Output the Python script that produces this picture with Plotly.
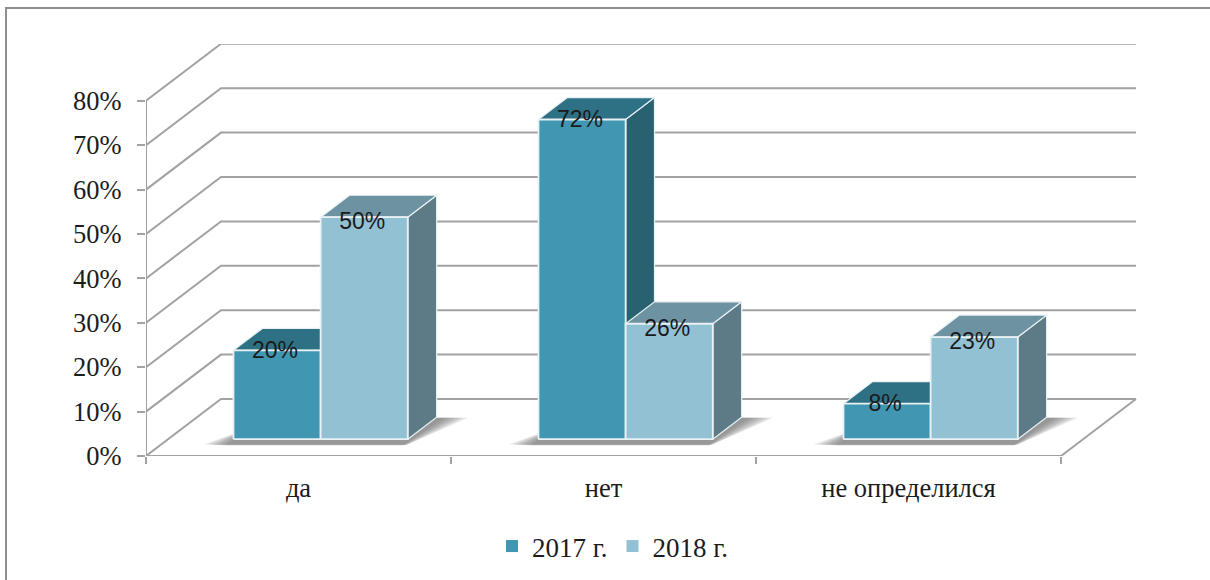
import plotly.graph_objects as go

categories = ["да", "нет", "не определился"]
series_names = ["2017 г.", "2018 г."]
values_2017 = [20, 72, 8]
values_2018 = [50, 26, 23]
y_ticks = [0, 10, 20, 30, 40, 50, 60, 70, 80]

FRONT = ["#4196B1", "#93C1D4"]
TOP = ["#2E7084", "#6D93A2"]
SIDE = ["#28616F", "#5C7B87"]
GRID = "#a2a2a2"
EDGE = "#e9f1f4"
SERIF = "Liberation Serif"

# Pixel frame of the oblique projection
W, H = 1210, 580
PX_L, PX_CAT, PX_B, PX_PCT = 146, 305, 456, 4.44
DEPTH_X = 75 / PX_CAT      # category units at full depth
DEPTH_Y = 57 / PX_PCT      # percent units at full depth
D0, D1 = 0.295, 0.68       # bar depth range
BAR_W = 1 / 3.5            # gap width 150 %


def proj(x, y, d=0.0):
    return x + d * DEPTH_X, y + d * DEPTH_Y


def poly(points, fill, line=None, width=0, opacity=1.0):
    xs, ys = zip(*(points + [points[0]]))
    return go.Scatter(
        x=xs, y=ys, mode="lines", fill="toself", fillcolor=fill,
        line=dict(color=line or fill, width=width), opacity=opacity,
        showlegend=False, hoverinfo="skip",
    )


fig = go.Figure()

# Gridlines running along the left wall and the back wall
for v in y_ticks:
    p0 = proj(0, v)
    p1 = proj(0, v, 1)
    p2 = proj(len(categories), v, 1)
    fig.add_trace(go.Scatter(x=[p0[0], p1[0], p2[0]], y=[p0[1], p1[1], p2[1]],
                             mode="lines", line=dict(color=GRID, width=2),
                             showlegend=False, hoverinfo="skip"))

# Front axis lines and right floor edge
fig.add_trace(go.Scatter(x=[0, 0], y=[0, y_ticks[-1]], mode="lines",
                         line=dict(color=GRID, width=2), showlegend=False, hoverinfo="skip"))
n = len(categories)
pe = proj(n, 0, 1)
fig.add_trace(go.Scatter(x=[0, n, pe[0]], y=[0, 0, pe[1]], mode="lines",
                         line=dict(color=GRID, width=2), showlegend=False, hoverinfo="skip"))

# Soft floor shadows
for i in range(n):
    x0 = i + 0.75 * BAR_W
    x1 = x0 + 2 * BAR_W
    for e in [0.075, 0.06, 0.045, 0.03, 0.015, 0.0]:
        band = 0.11 - 0.2 * e
        pts = [proj(x0 - e, 0, D0 - band), proj(x1 + 0.012 + e * 0.15, 0, D0 - band),
               proj(x1 + 0.03 + e, 0, D1 - 0.01), proj(x1 - 0.2, 0, D1 - 0.01),
               proj(x0, 0, D0 + 0.18)]
        fig.add_trace(poly(pts, "rgba(100,100,100,0.16)"))

# Bars: side, top and front face of each box
all_values = [values_2017, values_2018]
for i in range(n):
    for s, vals in enumerate(all_values):
        v = vals[i]
        xa = i + 0.75 * BAR_W + s * BAR_W
        xb = xa + BAR_W
        side = [proj(xb, 0, D0), proj(xb, 0, D1), proj(xb, v, D1), proj(xb, v, D0)]
        top = [proj(xa, v, D0), proj(xb, v, D0), proj(xb, v, D1), proj(xa, v, D1)]
        front = [proj(xa, 0, D0), proj(xb, 0, D0), proj(xb, v, D0), proj(xa, v, D0)]
        fig.add_trace(poly(side, SIDE[s], EDGE, 1.2))
        fig.add_trace(poly(top, TOP[s], EDGE, 1.2))
        fig.add_trace(poly(front, FRONT[s], EDGE, 1.8))

# Data labels
label_drop = [1.5 / PX_PCT, 6 / PX_PCT]
for s, vals in enumerate(all_values):
    xs, ys, texts = [], [], []
    for i, v in enumerate(vals):
        x, y = proj(i + 0.75 * BAR_W + (s + 0.5) * BAR_W - 2 / PX_CAT, v - label_drop[s], D0)
        xs.append(x)
        ys.append(y)
        texts.append(f"{v}%")
    fig.add_trace(go.Scatter(x=xs, y=ys, text=texts, mode="text", textposition="middle center",
                             textfont=dict(family="Liberation Sans", size=23, color="#1a1a1a"),
                             showlegend=False, hoverinfo="skip"))

# Legend entries
for s, name in enumerate(series_names):
    fig.add_trace(go.Scatter(x=[None], y=[None], mode="markers", name=name,
                             marker=dict(symbol="square", size=12, color=FRONT[s])))

PX_R, PX_T = 1137, 44
fig.update_layout(
    width=W, height=H,
    margin=dict(l=PX_L, r=W - PX_R, t=PX_T, b=H - PX_B, autoexpand=False),
    paper_bgcolor="white", plot_bgcolor="white",
    font=dict(family=SERIF, size=26.5, color="#1c1c1c"),
    showlegend=True,
    legend=dict(orientation="h", x=(492 - PX_L) / (PX_R - PX_L), xanchor="left",
                y=-(522 - PX_B) / (PX_B - PX_T), yanchor="top",
                font=dict(family=SERIF, size=27, color="#1c1c1c"),
                bgcolor="rgba(0,0,0,0)", itemwidth=30),
    xaxis=dict(range=[0, (PX_R - PX_L) / PX_CAT], tickmode="array",
               tickvals=[i + 0.5 for i in range(n)], ticktext=categories,
               ticks="", showgrid=False, zeroline=False, showline=False,
               ticklabelstandoff=13, fixedrange=True, automargin=False,
               minor=dict(tickmode="array", tickvals=list(range(n + 1)), ticks="outside",
                          ticklen=7, tickwidth=2, tickcolor=GRID, showgrid=False)),
    yaxis=dict(range=[0, (PX_B - PX_T) / PX_PCT], tickmode="array",
               tickvals=y_ticks, ticktext=[f"{v}%" for v in y_ticks],
               ticks="outside", ticklen=8, tickwidth=2, tickcolor=GRID,
               showgrid=False, zeroline=False, showline=False,
               ticklabelstandoff=10, fixedrange=True, automargin=False),
    shapes=[
        dict(type="rect", xref="paper", yref="paper", layer="below",
             x0=(6 - PX_L) / (PX_R - PX_L), x1=(W + 20 - PX_L) / (PX_R - PX_L),
             y0=(PX_B - (H + 20)) / (PX_B - PX_T), y1=(PX_B - 8) / (PX_B - PX_T),
             line=dict(color="#8f8f8f", width=2), fillcolor="white"),
    ],
)

fig.write_html("out.html", post_script="document.body.style.margin='0';document.body.style.overflow='hidden';",
               config={"displayModeBar": False})
